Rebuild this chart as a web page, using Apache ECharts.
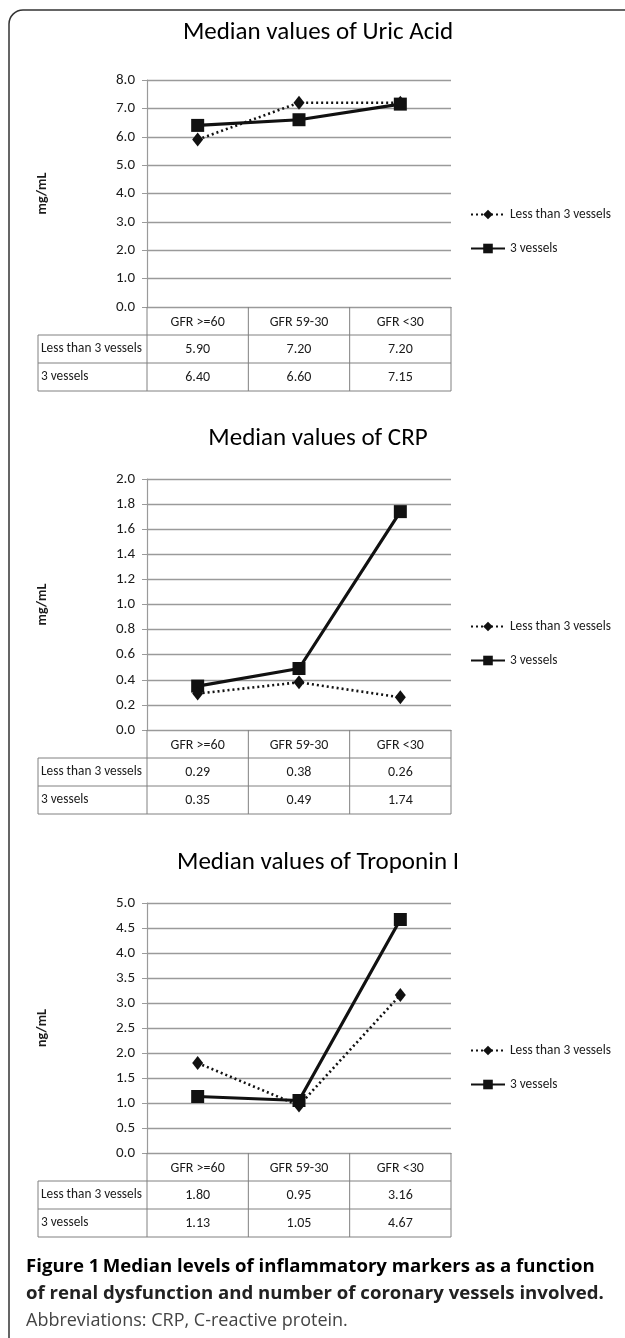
<!DOCTYPE html>
<html><head><meta charset="utf-8">
<script src="https://cdn.jsdelivr.net/npm/echarts@6/dist/echarts.min.js"></script>
<style>html,body{margin:0;padding:0;background:#fff}#c{width:625px;height:1338px}</style>
</head><body><div id="c"></div>
<script>
// ---- data ----
const categories = ['GFR >=60', 'GFR 59-30', 'GFR <30'];
const seriesNames = ['Less than 3 vessels', '3 vessels'];
const chartTitles = ['Median values of Uric Acid', 'Median values of CRP', 'Median values of Troponin I'];
const unitLabels = ['mg/mL', 'mg/mL', 'ng/mL'];
const uricLess = [5.90, 7.20, 7.20];
const uric3 = [6.40, 6.60, 7.15];
const crpLess = [0.29, 0.38, 0.26];
const crp3 = [0.35, 0.49, 1.74];
const tropLess = [1.80, 0.95, 3.16];
const trop3 = [1.13, 1.05, 4.67];
const yMax = [8, 2, 5];
const yStep = [1, 0.2, 0.5];
const captionLead = 'Figure 1';
const captionLine1 = 'Median levels of inflammatory markers as a function';
const captionLine2 = 'of renal dysfunction and number of coronary vessels involved.';
const captionLine3 = 'Abbreviations: CRP, C-reactive protein.';

const panelData = [[uricLess, uric3], [crpLess, crp3], [tropLess, trop3]];

// ---- font choice (narrow, Calibri-like if present) ----
function hasFont(name) {
  const c = document.createElement('canvas').getContext('2d');
  c.font = '20px monospace'; const a = c.measureText('Less than 3 vessels GFR').width;
  c.font = '20px "' + name + '", monospace'; const b = c.measureText('Less than 3 vessels GFR').width;
  return Math.abs(a - b) > 0.5;
}
let FONT, FS = 1;
if (hasFont('Carlito')) { FONT = 'Carlito'; FS = 1; }
else if (hasFont('Liberation Sans Narrow')) { FONT = '"Liberation Sans Narrow"'; FS = 1.02; }
else if (hasFont('DejaVu Sans Condensed')) { FONT = '"DejaVu Sans Condensed"'; FS = 0.82; }
else { FONT = 'Lato'; FS = 0.9; }
const fs = v => Math.round(v * FS * 10) / 10;

// ---- layout ----
const panels = [
  { titleY: 33, top: 80, height: 227, legendTop: 208 },
  { titleY: 439, top: 479, height: 251, legendTop: 620 },
  { titleY: 863, top: 903, height: 250, legendTop: 1044 }
];
const gridLeft = 147, gridWidth = 304, tableLeft = 38, rowH = 28;
const GRAY = '#9a9a9a', TXT = '#1a1a1a';

const chart = echarts.init(document.getElementById('c'), null, { renderer: 'canvas' });

const option = {
  animation: false,
  backgroundColor: '#fff',
  title: [], legend: [], grid: [], xAxis: [], yAxis: [], series: []
};

panels.forEach((p, i) => {
  option.title.push({
    text: chartTitles[i], left: 318, textAlign: 'center', top: p.titleY - 13, padding: 0,
    textStyle: { fontFamily: FONT, fontSize: fs(25), fontWeight: 'normal', color: '#000' }
  });
  option.grid.push({ left: gridLeft, top: p.top, width: gridWidth, height: p.height, containLabel: false });
  option.xAxis.push({
    type: 'category', gridIndex: i, data: categories, boundaryGap: true,
    axisLine: { show: true, lineStyle: { color: GRAY, width: 1.2 } },
    axisTick: { show: false },
    axisLabel: { margin: 8, fontFamily: FONT, fontSize: fs(14), color: TXT }
  });
  option.yAxis.push({
    type: 'value', gridIndex: i, min: 0, max: yMax[i], interval: yStep[i],
    name: unitLabels[i], nameLocation: 'middle', nameRotate: 90, nameGap: 98,
    nameTextStyle: { fontFamily: FONT, fontSize: fs(14), fontWeight: 'bold', color: TXT },
    axisLine: { show: true, lineStyle: { color: GRAY, width: 1.2 } },
    axisTick: { show: true, length: 5, lineStyle: { color: GRAY } },
    splitLine: { show: true, lineStyle: { color: GRAY, width: 1.3 } },
    axisLabel: { margin: 12, fontFamily: FONT, fontSize: fs(15), color: TXT, formatter: v => v.toFixed(1) }
  });
  option.legend.push({
    orient: 'vertical', left: 470, top: p.legendTop, padding: 0,
    itemWidth: 34, itemHeight: 12, itemGap: 21,
    data: seriesNames, selectedMode: false,
    textStyle: { fontFamily: FONT, fontSize: fs(13.3), color: TXT }
  });
  option.series.push({
    name: seriesNames[0], type: 'line', xAxisIndex: i, yAxisIndex: i, data: panelData[i][0],
    symbol: 'diamond', symbolSize: [11, 14], z: 3,
    lineStyle: { color: '#111', width: 2.6, type: [2, 3] },
    itemStyle: { color: '#111' }
  });
  option.series.push({
    name: seriesNames[1], type: 'line', xAxisIndex: i, yAxisIndex: i, data: panelData[i][1],
    symbol: 'rect', symbolSize: 13, z: 2,
    lineStyle: { color: '#111', width: 3.2, type: 'solid' },
    itemStyle: { color: '#111' }
  });
});

chart.setOption(option);

// ---- table and frame graphics ----
const graphics = [];
graphics.push({
  type: 'rect', shape: { x: 9, y: 10, width: 700, height: 1345, r: 14 },
  style: { fill: null, stroke: '#333', lineWidth: 1.5 }, silent: true
});
function line(x1, y1, x2, y2) {
  graphics.push({ type: 'line', shape: { x1, y1, x2, y2 }, style: { stroke: '#808080', lineWidth: 1 }, silent: true, z: 10 });
}
panels.forEach((p, i) => {
  const y0 = p.top + p.height;
  const centers = categories.map(c => chart.convertToPixel({ xAxisIndex: i }, c));
  const xEnd = gridLeft + gridWidth;
  const bounds = [gridLeft];
  for (let k = 0; k < centers.length - 1; k++) bounds.push((centers[k] + centers[k + 1]) / 2);
  bounds.push(xEnd);
  bounds.forEach(x => line(x, y0, x, y0 + 3 * rowH));
  line(tableLeft, y0 + rowH, tableLeft, y0 + 3 * rowH);
  [1, 2, 3].forEach(r => line(tableLeft, y0 + r * rowH, xEnd, y0 + r * rowH));
  seriesNames.forEach((name, r) => {
    const yc = y0 + (r + 1.5) * rowH;
    graphics.push({ type: 'text', x: tableLeft + 3, y: yc, silent: true, z: 11,
      style: { text: name, fontFamily: FONT, fontSize: fs(13.3), fill: TXT, textAlign: 'left', textVerticalAlign: 'middle' } });
    panelData[i][r].forEach((v, k) => {
      graphics.push({ type: 'text', x: centers[k], y: yc, silent: true, z: 11,
        style: { text: v.toFixed(2), fontFamily: FONT, fontSize: fs(14), fill: TXT, textAlign: 'center', textVerticalAlign: 'middle' } });
    });
  });
});
const CAPF = '"Open Sans", "Noto Sans", sans-serif';
graphics.push({ type: 'text', x: 26, y: 1267, silent: true,
  style: { text: '{a|' + captionLead + '} {b|' + captionLine1 + '}', textVerticalAlign: 'middle',
    rich: { a: { fontFamily: CAPF, fontSize: 18.6, fontWeight: 'bold', color: '#111' },
            b: { fontFamily: CAPF, fontSize: 18.6, fontWeight: 'bold', color: '#222' } } } });
graphics.push({ type: 'text', x: 26, y: 1294, silent: true,
  style: { text: captionLine2, fontFamily: CAPF, fontSize: 18.6, fontWeight: 'bold', fill: '#222', textVerticalAlign: 'middle' } });
graphics.push({ type: 'text', x: 26, y: 1321, silent: true,
  style: { text: captionLine3, fontFamily: CAPF, fontSize: 18, fontWeight: 'normal', fill: '#444', textVerticalAlign: 'middle' } });
chart.setOption({ graphic: graphics });
</script></body></html>
